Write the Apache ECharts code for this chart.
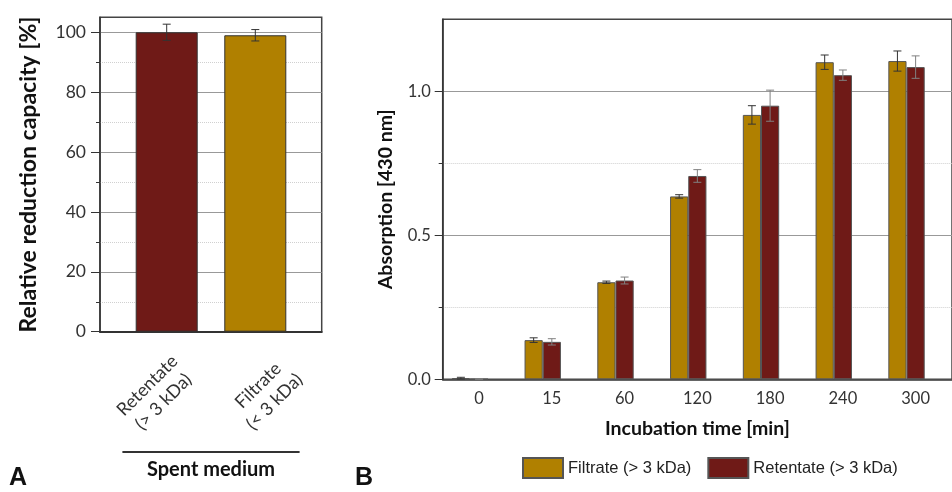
<!DOCTYPE html>
<html><head><meta charset="utf-8">
<script src="https://cdn.jsdelivr.net/npm/echarts@6/dist/echarts.min.js"></script>
<style>html,body{margin:0;padding:0;background:#fff}#c{width:952px;height:492px}</style>
</head><body><div id="c"></div>
<script>
// ---------- Panel A data ----------
const fractionCategories = ['Retentate\n(> 3 kDa)', 'Filtrate\n(< 3 kDa)'];
const fractionValues = [100, 99];
const fractionErrors = [2.7, 1.9];
const capacityMajorTicks = [0, 20, 40, 60, 80, 100];
const capacityMinorTicks = [10, 30, 50, 70, 90];
// ---------- Panel B data ----------
const timeCategories = ['0', '15', '60', '120', '180', '240', '300'];
const filtrateValues = [0.004, 0.136, 0.337, 0.635, 0.918, 1.101, 1.105];
const filtrateErrors = [0.003, 0.008, 0.004, 0.006, 0.032, 0.025, 0.035];
const retentateValues = [0.001, 0.130, 0.343, 0.706, 0.950, 1.056, 1.084];
const retentateErrors = [0.001, 0.011, 0.012, 0.022, 0.054, 0.018, 0.039];
const absorptionMajorTicks = [0, 0.5, 1.0];
const absorptionMinorTicks = [0.25, 0.75];
const seriesNames = ['Filtrate (> 3 kDa)', 'Retentate (> 3 kDa)'];

// ---------- styles / layout ----------
const GOLD = '#B08000', RED = '#6F1A17';
const FONT = 'Lato';
const A_TOP = 17.3, A_BOTTOM = 331.7;
const A_FRAME_LEFT = 100, A_FRAME_W = 221.7;
const A_BAR_LEFT = 122.4, A_BAR_W = 177.2;
const B_TOP = 19.3, B_BOTTOM = 379.3, B_LEFT = 442.7, B_W = 521.5;

function errRenderer(slotCount, barFrac, colors) {
  return function (params, api) {
    const ci = api.value(0), v = api.value(1), e = api.value(2), slot = api.value(3);
    const band = api.size([1, 0])[0];
    const bw = band * barFrac;
    const base = api.coord([ci, v]);
    const x = base[0] + (slot - (slotCount - 1) / 2) * bw;
    const yt = api.coord([ci, v + e])[1];
    const yb = api.coord([ci, v - e])[1];
    const cap = 4;
    const st = { stroke: colors[slot], lineWidth: 1 };
    return { type: 'group', children: [
      { type: 'line', shape: { x1: x, y1: yt, x2: x, y2: yb }, style: st },
      { type: 'line', shape: { x1: x - cap, y1: yt, x2: x + cap, y2: yt }, style: st },
      { type: 'line', shape: { x1: x - cap, y1: yb, x2: x + cap, y2: yb }, style: st }
    ]};
  };
}

const errA = fractionValues.map((v, i) => [i, v, fractionErrors[i], 0]);
const errB = [];
filtrateValues.forEach((v, i) => errB.push([i, v, filtrateErrors[i], 0]));
retentateValues.forEach((v, i) => errB.push([i, v, retentateErrors[i], 1]));

const chart = echarts.init(document.getElementById('c'), null, { renderer: 'canvas' });
chart.setOption({
  animation: false,
  backgroundColor: '#fff',
  textStyle: { fontFamily: FONT },
  grid: [
    { left: A_FRAME_LEFT, top: A_TOP, width: A_FRAME_W, height: A_BOTTOM - A_TOP, show: true,
      borderColor: '#444', borderWidth: 1.5, backgroundColor: 'transparent' },
    { left: A_BAR_LEFT, top: A_TOP, width: A_BAR_W, height: A_BOTTOM - A_TOP },
    { left: B_LEFT, top: B_TOP, width: B_W, height: B_BOTTOM - B_TOP, show: true,
      borderColor: '#444', borderWidth: 1.5, backgroundColor: 'transparent' }
  ],
  xAxis: [
    { gridIndex: 0, type: 'category', data: fractionCategories,
      axisLine: { lineStyle: { color: '#333', width: 2 } }, axisTick: { show: false },
      axisLabel: { rotate: 45, align: 'center', verticalAlign: 'middle', margin: 62, lineHeight: 23,
        fontSize: 18, color: '#333', fontFamily: FONT } },
    { gridIndex: 1, type: 'category', data: fractionCategories,
      axisLine: { show: false }, axisTick: { show: false }, axisLabel: { show: false },
      name: 'Spent medium', nameLocation: 'middle', nameGap: 128,
      nameTextStyle: { fontSize: 20, fontWeight: 'bold', color: '#111', fontFamily: FONT } },
    { gridIndex: 2, type: 'category', data: timeCategories,
      axisLine: { lineStyle: { color: '#333', width: 1.5 } },
      axisTick: { alignWithLabel: true, length: 6, lineStyle: { color: '#333' } },
      axisLabel: { margin: 11, fontSize: 16.5, color: '#333', fontFamily: FONT },
      name: 'Incubation time [min]', nameLocation: 'middle', nameGap: 39,
      nameTextStyle: { fontSize: 19.5, fontWeight: 'bold', color: '#111', fontFamily: FONT } }
  ],
  yAxis: [
    { gridIndex: 0, type: 'value', min: 0, max: 105, position: 'left',
      axisLine: { show: true, lineStyle: { color: '#333', width: 1.5 } },
      axisTick: { show: true, length: 9, customValues: capacityMajorTicks, lineStyle: { color: '#333' } },
      axisLabel: { customValues: capacityMajorTicks, margin: 14, fontSize: 17.5, color: '#333', fontFamily: FONT },
      splitLine: { show: true, lineStyle: { color: '#999', width: 1 } },
      name: 'Relative reduction capacity [%]', nameLocation: 'middle', nameGap: 60,
      nameTextStyle: { fontSize: 23, fontWeight: 'bold', color: '#111', fontFamily: FONT } },
    { gridIndex: 0, type: 'value', min: 0, max: 105, position: 'left',
      axisLine: { show: false },
      axisTick: { show: true, length: 4, customValues: capacityMinorTicks, lineStyle: { color: '#333' } },
      axisLabel: { show: false },
      splitLine: { show: true, lineStyle: { color: '#d0d0d0', width: 1, type: 'dotted' } } },
    { gridIndex: 1, type: 'value', min: 0, max: 105, show: false, splitLine: { show: false } },
    { gridIndex: 2, type: 'value', min: 0, max: 1.25, position: 'left',
      axisLine: { show: true, lineStyle: { color: '#333', width: 1.5 } },
      axisTick: { show: true, length: 8, customValues: absorptionMajorTicks, lineStyle: { color: '#333' } },
      axisLabel: { customValues: absorptionMajorTicks, margin: 12, fontSize: 16.5, color: '#333', fontFamily: FONT,
        formatter: v => Number(v).toFixed(1) },
      splitLine: { show: true, lineStyle: { color: '#999', width: 1 } },
      name: 'Absorption [430 nm]', nameLocation: 'middle', nameGap: 47,
      nameTextStyle: { fontSize: 19.5, fontWeight: 'bold', color: '#111', fontFamily: FONT } },
    { gridIndex: 2, type: 'value', min: 0, max: 1.25, position: 'left',
      axisLine: { show: false },
      axisTick: { show: true, length: 4, customValues: absorptionMinorTicks, lineStyle: { color: '#333' } },
      axisLabel: { show: false },
      splitLine: { show: true, lineStyle: { color: '#d0d0d0', width: 1, type: 'dotted' } } }
  ],
  legend: {
    data: seriesNames, left: 522, top: 457, padding: 0, itemWidth: 40, itemHeight: 20, itemGap: 16,
    icon: 'rect',
    textStyle: { fontFamily: 'Liberation Sans', fontSize: 16.5, color: '#222' }
  },
  series: [
    { type: 'bar', xAxisIndex: 1, yAxisIndex: 2, barWidth: '70%',
      data: fractionValues.map((v, i) => ({ value: v, itemStyle: { color: i === 0 ? RED : GOLD } })),
      itemStyle: { borderColor: '#333', borderWidth: 1 } },
    { type: 'custom', xAxisIndex: 1, yAxisIndex: 2, z: 10, renderItem: errRenderer(1, 0.7, ['#333']),
      data: errA },
    { name: seriesNames[0], type: 'bar', xAxisIndex: 2, yAxisIndex: 3, barWidth: '25%', barGap: '0%',
      data: filtrateValues, itemStyle: { color: GOLD, borderColor: '#555', borderWidth: 1 } },
    { name: seriesNames[1], type: 'bar', xAxisIndex: 2, yAxisIndex: 3, barWidth: '25%', barGap: '0%',
      data: retentateValues, itemStyle: { color: RED, borderColor: '#555', borderWidth: 1 } },
    { name: 'spacer', type: 'bar', xAxisIndex: 2, yAxisIndex: 3, barWidth: '25%', barGap: '0%',
      data: timeCategories.map(() => null) },
    { type: 'custom', xAxisIndex: 2, yAxisIndex: 3, z: 10, renderItem: errRenderer(3, 0.25, ['#333', '#808080']),
      data: errB }
  ],
  graphic: [
    { type: 'line', shape: { x1: A_BAR_LEFT, y1: 452, x2: A_BAR_LEFT + A_BAR_W, y2: 452 },
      style: { stroke: '#333', lineWidth: 2 } },
    { type: 'text', left: 9, top: 466, style: { text: 'A', font: 'bold 25px "Liberation Sans"', fill: '#111' } },
    { type: 'text', left: 355, top: 466, style: { text: 'B', font: 'bold 25px "Liberation Sans"', fill: '#111' } }
  ]
});
</script></body></html>
